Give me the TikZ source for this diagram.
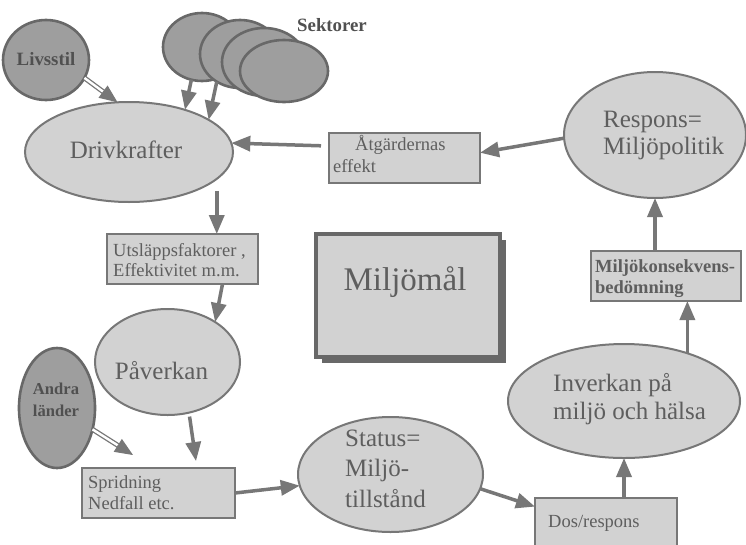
\documentclass[tikz,border=0pt]{standalone}
\usepackage{fontspec}
\setmainfont{Liberation Serif}
\usetikzlibrary{arrows.meta,calc,shapes.geometric,shadows}
\definecolor{lc}{HTML}{777777}
\definecolor{lf}{HTML}{D2D2D2}
\definecolor{df}{HTML}{9E9E9E}
\definecolor{dl}{HTML}{686868}
\definecolor{tc}{HTML}{5E5E5E}
\definecolor{bc}{HTML}{505050}
\tikzset{
  ell/.style={ellipse, draw=lc, fill=lf, line width=2pt, inner sep=0pt, outer sep=0pt},
  dell/.style={ellipse, draw=dl, fill=df, line width=2.6pt, inner sep=0pt, outer sep=0pt},
  box/.style={rectangle, draw=lc, fill=lf, line width=1.8pt, inner sep=0pt, outer sep=0pt},
  txt/.style={inner sep=0pt, text=tc, anchor=base west},
  big/.style={font=\fontsize{25}{29}\selectfont},
  sm/.style={font=\fontsize{18.5}{21}\selectfont},
  bsm/.style={font=\fontsize{18.5}{21}\selectfont\bfseries},
  arr/.style={draw=lc, line width=3.5pt, -{Triangle[length=19pt,width=15pt]}},
  hol/.style={draw=lc, line width=1.3pt, double=white, double distance=2.4pt},
  headonly/.style={draw=lc, line width=1pt, -{Triangle[length=18pt,width=15pt]}},
}
\begin{document}
\begin{tikzpicture}[x=1pt,y=-1pt]
\useasboundingbox (0,0) rectangle (746,544);
\clip (0,0) rectangle (746,544);
\fill[white] (0,0) rectangle (746,544);

% ellipses
\node[dell, minimum width=86pt, minimum height=80pt] (liv) at (46,60) {};
\node[dell, minimum width=78pt, minimum height=68pt] (sek1) at (202,47) {};
\node[dell, minimum width=80pt, minimum height=68pt] (sek2) at (240,54) {};
\node[dell, minimum width=84pt, minimum height=68pt] (sek3) at (264,62) {};
\node[dell, minimum width=88pt, minimum height=62pt] (sek4) at (284,71) {};
\node[ell, minimum width=208pt, minimum height=100pt] (driv) at (129,152) {};
\node[ell, minimum width=182pt, minimum height=126pt] (resp) at (655,135) {};
\node[ell, minimum width=145pt, minimum height=106pt] (pav) at (167.5,362) {};
\node[dell, minimum width=76pt, minimum height=120pt] (andra) at (57,408) {};
\node[ell, minimum width=185pt, minimum height=115pt] (status) at (390.5,474.5) {};
\node[ell, minimum width=232pt, minimum height=114pt] (inv) at (624,401) {};

% boxes
\node[box, minimum width=151pt, minimum height=50pt] (atg) at (404.5,158) {};
\node[box, minimum width=150pt, minimum height=50pt] (mkb) at (666,276) {};
\node[box, minimum width=151pt, minimum height=50pt] (utsl) at (182.5,259) {};
\node[box, minimum width=153pt, minimum height=50pt] (sprid) at (158.5,493) {};
\node[box, minimum width=142pt, minimum height=50pt] (dos) at (606,523) {};
\node[rectangle, draw=dl, fill=lf, line width=3.5pt, inner sep=0pt, outer sep=0pt,
      minimum width=184pt, minimum height=123pt,
      drop shadow={shadow xshift=6pt, shadow yshift=-6pt, fill=dl, opacity=1}] (mm) at (408,295.5) {};

% texts
\node[txt, anchor=base, text=bc, font=\fontsize{18.8}{21}\selectfont\bfseries] (tliv) at (46,65) {Livsstil};
\node[txt, anchor=base, text=bc, font=\fontsize{18.8}{21}\selectfont\bfseries] (tsek) at (332,31) {Sektorer};
\node[txt, big, anchor=base] (tdriv) at (126,158) {Drivkrafter};
\node[txt, sm] (tatg1) at (355,150) {Åtgärdernas};
\node[txt, sm] (tatg2) at (333,172) {effekt};
\node[txt, big] (tresp1) at (603,127) {Respons=};
\node[txt, big] (tresp2) at (603,154) {Miljöpolitik};
\node[txt, bsm] (tmkb1) at (595,272) {Miljökonsekvens-};
\node[txt, bsm] (tmkb2) at (595,293) {bedömning};
\node[txt, sm] (tutsl1) at (113,256) {Utsläppsfaktorer ,};
\node[txt, sm] (tutsl2) at (113,276) {Effektivitet m.m.};
\node[txt, anchor=base, font=\fontsize{33}{38}\selectfont] (tmm) at (405,290) {Miljömål};
\node[txt, big, anchor=base] (tpav) at (161.5,379) {Påverkan};
\node[txt, anchor=base, text=bc, font=\fontsize{16.6}{20}\selectfont\bfseries] (tand1) at (56,394) {Andra};
\node[txt, anchor=base, text=bc, font=\fontsize{16.6}{20}\selectfont\bfseries] (tand2) at (56,416) {länder};
\node[txt, sm] (tspr1) at (88,488) {Spridning};
\node[txt, sm] (tspr2) at (88,509) {Nedfall etc.};
\node[txt, big] (tst1) at (345,446) {Status=};
\node[txt, big] (tst2) at (345,476) {Miljö-};
\node[txt, big] (tst3) at (345,507) {tillstånd};
\node[txt, big] (tinv1) at (553,391) {Inverkan på};
\node[txt, big] (tinv2) at (553,419) {miljö och hälsa};
\node[txt, sm] (tdos) at (548,527) {Dos/respons};

% connectors
\draw[hol, shorten >=16pt] (liv.-25) -- (driv.103);
\draw[headonly] ($(driv.103)!18pt!(liv.-25)$) -- (driv.103);
\draw[arr] (sek1.-108) -- (driv.37);
\draw[arr] (sek2.-130) -- (driv.22);
\draw[arr, shorten <=8pt] (atg.171) -- (driv.5);
\draw[arr] (resp.182) -- (atg.4);
\draw[arr] (resp.south |- mkb.north) -- (resp.south);
\draw[arr] (inv.37) -- (inv.37 |- mkb.south);
\draw[arr, shorten <=12pt] (driv.-17) -- (driv.-17 |- utsl.north);
\draw[arr] (utsl.-32) -- (pav.40);
\draw[arr, shorten <=4pt, shorten >=7pt] (pav.-67) -- (sprid.33);
\coordinate (andraTip) at (133,455);
\draw[hol, shorten >=16pt] (andra.-31) -- (andraTip);
\draw[headonly] ($(andraTip)!18pt!(andra.-31)$) -- (andraTip);
\draw[arr] (sprid.east) -- (status.187);
\draw[arr] (status.-9) -- (dos.167);
\draw[arr] (inv.south |- dos.north) -- (inv.south);
\end{tikzpicture}
\end{document}
